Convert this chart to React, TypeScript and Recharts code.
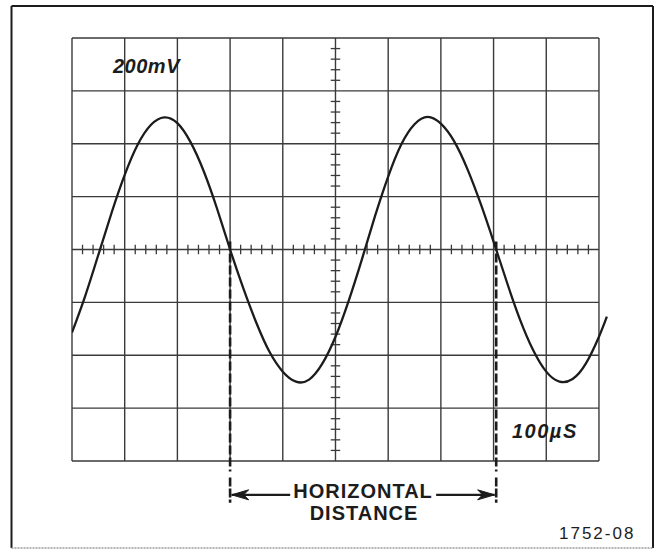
import { LineChart, Line, XAxis, YAxis, ReferenceLine } from 'recharts'

// trace positions in graticule divisions (0..10) and the displayed level in divisions
const traceX = [
  0, 0.25, 0.5, 0.75, 1, 1.25, 1.5, 1.75, 2, 2.25, 2.5, 2.75, 3, 3.25, 3.5, 3.75, 4, 4.25,
  4.5, 4.75, 5, 5.25, 5.5, 5.75, 6, 6.25, 6.5, 6.75, 7, 7.25, 7.5, 7.75, 8, 8.25, 8.5, 8.75,
  9, 9.25, 9.5, 9.75, 10, 10.15,
]
const traceLevel = [
  -1.57, -0.88, -0.1, 0.69, 1.41, 1.99, 2.36, 2.5, 2.39, 2.03, 1.48, 0.78, 0, -0.73, -1.39, -1.94, -2.31, -2.5,
  -2.46, -2.16, -1.65, -0.97, -0.19, 0.63, 1.38, 1.99, 2.37, 2.51, 2.38, 2.05, 1.53, 0.88, 0.15, -0.61, -1.32, -1.9,
  -2.31, -2.5, -2.45, -2.16, -1.65, -1.27,
]
const majorX = [0, 1, 2, 3, 4, 5, 6, 7, 8, 9, 10]
const majorY = [-4, -3, -2, -1, 0, 1, 2, 3, 4]
const minorSteps = [0.2, 0.4, 0.6, 0.8]
const cursorX = [3.0, 8.05]

const data = traceX.map((x, i) => ({ x, v: traceLevel[i] }))

const ink = '#1c1c1c'
const gridInk = '#3a3a3a'

function ArrowLine(props: any) {
  const { x1, y1, x2, y2 } = props
  const dir = x2 > x1 ? 1 : -1
  return (
    <g>
      <line x1={x1} y1={y1} x2={x2} y2={y2} stroke={ink} strokeWidth={2.2} />
      <polygon
        points={`${x1},${y1} ${x1 + dir * 17},${y1 - 5} ${x1 + dir * 12},${y1} ${x1 + dir * 17},${y1 + 5}`}
        fill={ink}
        stroke={ink}
        strokeWidth={1}
      />
    </g>
  )
}

export default function App() {
  const minorH = majorX.slice(0, 10).flatMap((d) => minorSteps.map((s) => d + s))
  const minorV = majorY.slice(0, 8).flatMap((d) => minorSteps.map((s) => d + s))

  return (
    <div style={{ position: 'absolute', left: 0, top: 0, width: 655, height: 550, background: '#fff' }}>
      <LineChart width={655} height={550} data={data} margin={{ top: 38, right: 45.5, bottom: 89, left: 72 }}>
        <XAxis dataKey="x" type="number" domain={[0, 10.2]} hide allowDataOverflow />
        <YAxis type="number" domain={[-4, 4]} hide allowDataOverflow />

        {majorX.map((x) => (
          <ReferenceLine key={`vx${x}`} x={x} stroke={gridInk} strokeWidth={1.4} />
        ))}
        {majorY.map((y) => (
          <ReferenceLine
            key={`hy${y}`}
            segment={[{ x: 0, y }, { x: 10, y }]}
            stroke={gridInk}
            strokeWidth={1.4}
          />
        ))}
        {minorH.map((x) => (
          <ReferenceLine
            key={`mh${x}`}
            segment={[{ x, y: -0.09 }, { x, y: 0.09 }]}
            stroke={gridInk}
            strokeWidth={1.3}
          />
        ))}
        {minorV.map((y) => (
          <ReferenceLine
            key={`mv${y}`}
            segment={[{ x: 4.91, y }, { x: 5.09, y }]}
            stroke={gridInk}
            strokeWidth={1.3}
          />
        ))}

        {cursorX.map((x) => (
          <ReferenceLine
            key={`c1${x}`}
            segment={[{ x, y: 0.15 }, { x, y: -4.2 }]}
            stroke={ink}
            strokeWidth={2.6}
            strokeDasharray="9 3"
            ifOverflow="visible"
          />
        ))}
        {cursorX.map((x) => (
          <ReferenceLine
            key={`c2${x}`}
            segment={[{ x, y: -4.31 }, { x, y: -4.79 }]}
            stroke={ink}
            strokeWidth={2.6}
            strokeDasharray="9 2"
            ifOverflow="visible"
          />
        ))}
        <ReferenceLine
          segment={[{ x: 3.03, y: -4.64 }, { x: 4.14, y: -4.64 }]}
          ifOverflow="visible"
          shape={ArrowLine}
        />
        <ReferenceLine
          segment={[{ x: 8.02, y: -4.64 }, { x: 6.91, y: -4.64 }]}
          ifOverflow="visible"
          shape={ArrowLine}
        />

        <Line
          dataKey="v"
          type="natural"
          stroke={ink}
          strokeWidth={2.3}
          dot={false}
          isAnimationActive={false}
        />
      </LineChart>

      <svg
        width={655}
        height={550}
        style={{ position: 'absolute', left: 0, top: 0, pointerEvents: 'none' }}
        fontFamily="'Liberation Sans', Arial, sans-serif"
      >
        <line x1={11.5} y1={6} x2={653} y2={6} stroke={ink} strokeWidth={2} />
        <line x1={11.5} y1={6} x2={11.5} y2={548} stroke={ink} strokeWidth={2} />
        <line x1={653} y1={6} x2={653} y2={548} stroke={ink} strokeWidth={2} />
        <line x1={11.5} y1={548} x2={653} y2={548} stroke="#9a9a9a" strokeWidth={1.5} strokeDasharray="2 1" />

        <text x={113} y={73} fontSize={20} fontStyle="italic" fontWeight={600} letterSpacing={0.5} fill={ink}>
          200mV
        </text>
        <text x={512} y={438} fontSize={20} fontStyle="italic" fontWeight={600} letterSpacing={1.5} fill={ink}>
          100µS
        </text>
        <text x={363} y={498} fontSize={20} fontWeight={700} letterSpacing={1} textAnchor="middle" fill={ink}>
          HORIZONTAL
        </text>
        <text x={364} y={520} fontSize={20} fontWeight={700} letterSpacing={1} textAnchor="middle" fill={ink}>
          DISTANCE
        </text>
        <text x={559} y={539} fontSize={17} letterSpacing={2} fill={ink}>
          1752-08
        </text>
      </svg>
    </div>
  )
}
